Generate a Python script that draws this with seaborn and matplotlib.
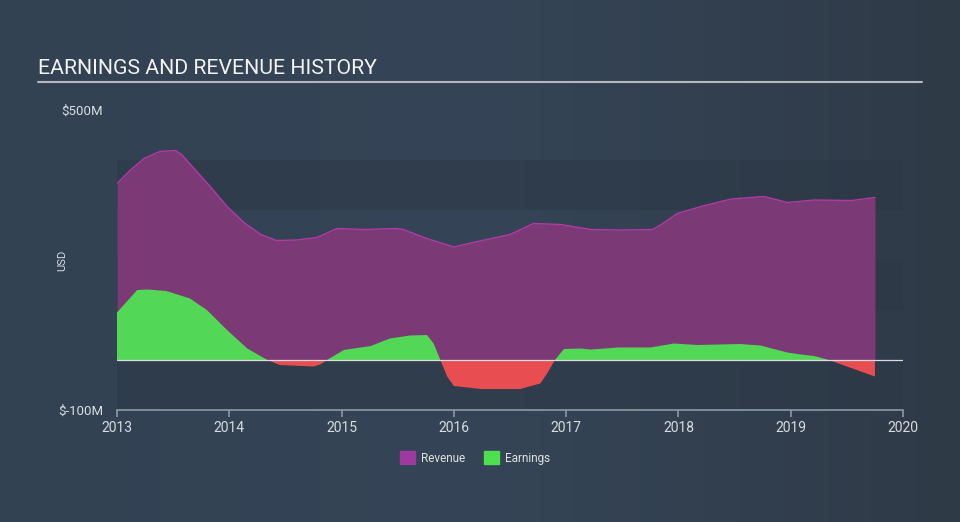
import numpy as np
import pandas as pd
import matplotlib
matplotlib.use("Agg")
import matplotlib.pyplot as plt
from matplotlib.patches import Patch
from matplotlib.colors import LinearSegmentedColormap
import seaborn as sns

# ---- data (USD millions) ----
rev_years = [2013.0, 2013.12, 2013.24, 2013.38, 2013.52, 2013.58, 2013.71, 2013.83,
             2013.98, 2014.13, 2014.28, 2014.42, 2014.6, 2014.78, 2014.96, 2015.2,
             2015.49, 2015.55, 2015.76, 2016.0, 2016.21, 2016.5, 2016.71, 2016.95,
             2017.22, 2017.49, 2017.77, 2017.84, 2017.99, 2018.2, 2018.47, 2018.76,
             2018.85, 2018.97, 2019.21, 2019.54, 2019.75]
revenue = [353, 380, 403, 417, 419, 410, 377, 347,
           307, 275, 251, 239, 240, 245, 263, 261,
           263, 261, 243, 226, 237, 251, 273, 271,
           261, 260, 261, 270, 293, 307, 322, 327,
           322, 315, 320, 319, 325]

earn_years = [2013.0, 2013.18, 2013.27, 2013.44, 2013.65, 2013.8, 2013.98, 2014.16,
              2014.34, 2014.45, 2014.75, 2014.81, 2014.87, 2015.02, 2015.11, 2015.26,
              2015.43, 2015.61, 2015.76, 2015.82, 2015.88, 2015.94, 2016.0, 2016.24,
              2016.59, 2016.77, 2016.83, 2016.9, 2016.98, 2017.13, 2017.22, 2017.46,
              2017.75, 2017.96, 2018.17, 2018.55, 2018.73, 2018.97, 2019.09, 2019.21,
              2019.34, 2019.75]
earnings = [95, 140, 141, 138, 123, 100, 60, 23,
            0, -10, -13, -9, 0, 20, 23, 28,
            43, 49, 50, 33, 0, -33, -52, -58,
            -58, -47, -27, 0, 22, 23, 21, 25,
            25, 33, 30, 32, 29, 15, 11, 8,
            0, -33]

x_ticks = [2013, 2014, 2015, 2016, 2017, 2018, 2019, 2020]
y_ticks = [-100, 500]
y_tick_labels = ["$-100M", "$500M"]
legend_labels = ["Revenue", "Earnings"]

rev_df = pd.DataFrame({"year": rev_years, "value": revenue})
earn_df = pd.DataFrame({"year": earn_years, "value": earnings})

# ---- style ----
sns.set_style("dark")
plt.rcParams["font.family"] = ["Roboto", "DejaVu Sans"]

W, H = 960, 522
fig = plt.figure(figsize=(W / 100, H / 100), dpi=100)

# background gradient
bg = fig.add_axes([0, 0, 1, 1], zorder=-10)
cmap = LinearSegmentedColormap.from_list("bg", ["#324253", "#354557", "#2f3a47"])
grad = np.linspace(0, 1, 256)[None, :]
bg.imshow(grad, aspect="auto", cmap=cmap, extent=[0, 1, 0, 1])
bg.set_axis_off()

ax = fig.add_axes([117 / W, 112 / H, 786 / W, 300 / H])
ax.set_facecolor("none")

# bands
for lo, hi in [(300, 400), (100, 200), (-100, 0)]:
    ax.axhspan(lo, hi, color="#2c3846", alpha=0.55, lw=0, zorder=0)

# revenue
ax.fill_between(rev_df["year"], 0, rev_df["value"], color="#7b3a76", lw=0, zorder=2)
sns.lineplot(data=rev_df, x="year", y="value", ax=ax, color="#b03aa6", lw=1.0,
             zorder=3, legend=False)

# earnings
ey = earn_df["value"].to_numpy(dtype=float)
ex = earn_df["year"].to_numpy()
ax.fill_between(ex, 0, ey, where=ey >= 0, interpolate=True, color="#53d757", lw=0, zorder=4)
ax.fill_between(ex, 0, ey, where=ey <= 0, interpolate=True, color="#e84e51", lw=0, zorder=4)

# zero line
ax.axhline(0, color="#dcdcdc", lw=0.9, zorder=5)

ax.set_xlim(2013, 2020)
ax.set_ylim(-100, 500)
ax.set_xticks(x_ticks)
ax.set_xticklabels([str(t) for t in x_ticks])
ax.set_yticks(y_ticks)
ax.set_yticklabels(y_tick_labels)
ax.set_xlabel("")
ax.set_ylabel("")
ax.grid(False)

for s in ["top", "right", "left"]:
    ax.spines[s].set_visible(False)
ax.spines["bottom"].set_color("#8d99a6")
ax.spines["bottom"].set_linewidth(1.2)
ax.tick_params(axis="x", colors="#8d99a6", length=5, width=1.2, direction="out",
               labelcolor="#d8dce0", labelsize=10, pad=3, bottom=True)
ax.tick_params(axis="y", length=0, labelcolor="#d8dce0", labelsize=9.5, pad=10, left=False)

# y axis name
fig.text(62 / W, 1 - 260 / H, "USD", color="#d8dce0", fontsize=8, rotation=90,
         ha="center", va="center")

# title and underline
fig.text(38 / W, 1 - 68 / H, "EARNINGS AND REVENUE HISTORY", color="#f2f2f2",
         fontsize=15.3, va="center", ha="left")
fig.add_artist(plt.Line2D([38 / W, 922 / W], [1 - 82 / H, 1 - 82 / H],
                          color="#b4b8be", lw=1.5))

# legend
handles = [Patch(color="#a0399f"), Patch(color="#4fe04f")]
leg = fig.legend(handles, legend_labels, loc="center", ncol=2,
                 bbox_to_anchor=(475 / W, 1 - 458 / H), frameon=False,
                 fontsize=8.5, handlelength=1.3, handleheight=1.3,
                 columnspacing=1.6, handletextpad=0.5)
for t in leg.get_texts():
    t.set_color("#e0e0e0")

fig.savefig("out.png", dpi=100)
